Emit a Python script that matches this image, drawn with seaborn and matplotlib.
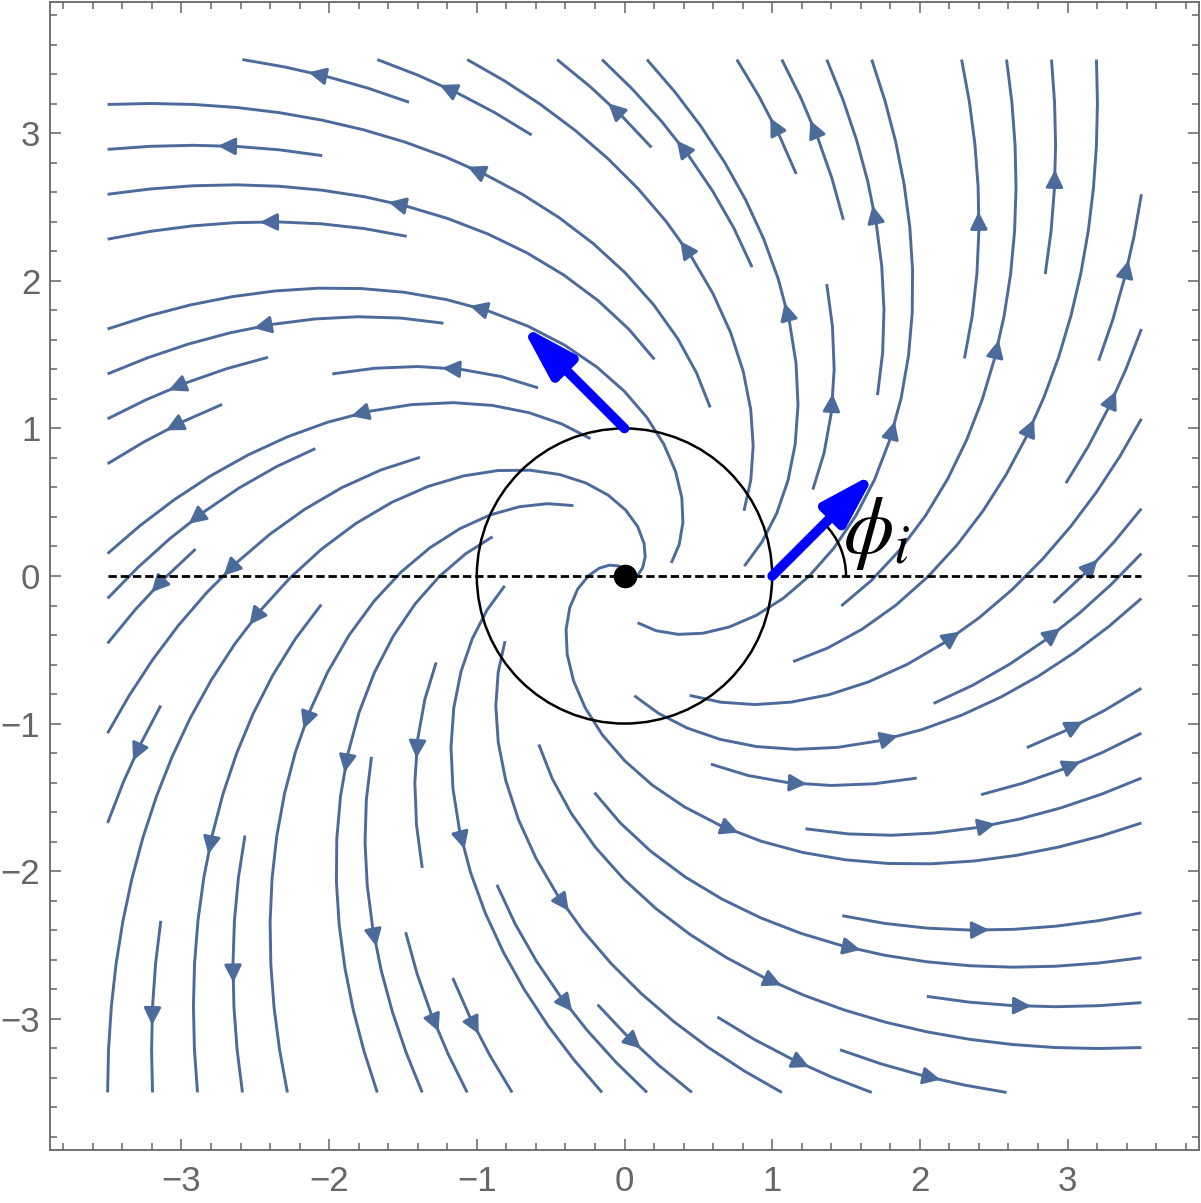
import numpy as np
import matplotlib
matplotlib.use("Agg")
import matplotlib.pyplot as plt
import seaborn as sns
from matplotlib.patches import Circle, Arc

sns.set_theme(style="white")
plt.rcParams['font.family'] = ['Liberation Sans', 'DejaVu Sans']
plt.rcParams['mathtext.fontset'] = 'stix'

# vector field v = (a*x + b*y, c*x + d*y) : outward spiral
field_u = [1.0, -1.0]
field_v = [1.0, 1.0]
plot_range = [-3.5, 3.5]
axis_limits = [-3.89, 3.89]
major_ticks = [-3, -2, -1, 0, 1, 2, 3]

# annotation geometry
circle_radius = 1.0
arrow_starts = [(0.0, 1.0), (1.0, 0.0)]
arrow_ends = [(-0.70, 1.70), (1.70, 0.70)]
angle_center = (1.0, 0.0)
angle_radius = 0.5
angle_deg = 45
label_pos = (1.71, 0.29)
label_text = r'$\phi_i$'

stream_color = '#4C6B9B'

xs = np.linspace(plot_range[0], plot_range[1], 80)
ys = np.linspace(plot_range[0], plot_range[1], 80)
X, Y = np.meshgrid(xs, ys)
U = field_u[0] * X + field_u[1] * Y
V = field_v[0] * X + field_v[1] * Y

fig = plt.figure(figsize=(12.01, 12.03), dpi=100)
ax = fig.add_axes([50/1201, 53/1203, 1149/1201, 1148/1203])

ax.streamplot(X, Y, U, V, density=0.8, color=stream_color, linewidth=2.1,
              arrowsize=2.6, arrowstyle='-|>', broken_streamlines=True, zorder=2)

# dashed axis line
ax.plot(plot_range, [0, 0], color='black', linestyle=(0, (3, 1.4)), linewidth=2.0, zorder=3)
# unit circle
ax.add_patch(Circle((0, 0), circle_radius, fill=False, edgecolor='black', linewidth=1.8, zorder=3))
# origin dot
ax.plot([0], [0], 'o', color='black', markersize=16, zorder=5)
# angle arc
ax.add_patch(Arc(angle_center, 2*angle_radius, 2*angle_radius, theta1=0, theta2=angle_deg,
                 color='black', linewidth=1.8, zorder=3))
# blue arrows
for (x0, y0), (x1, y1) in zip(arrow_starts, arrow_ends):
    ax.annotate('', xy=(x1, y1), xytext=(x0, y0),
                arrowprops=dict(arrowstyle='-|>,head_length=1.6,head_width=0.48',
                                mutation_scale=20, color='#0000FF', lw=7,
                                shrinkA=0, shrinkB=0),
                zorder=6)
ax.text(label_pos[0], label_pos[1], label_text, fontsize=58, color='black',
        ha='center', va='center', zorder=6)

ax.set_xlim(axis_limits)
ax.set_ylim(axis_limits)
ax.set_xticks(major_ticks)
ax.set_yticks(major_ticks)
ax.set_xticks(np.arange(-3.8, 3.81, 0.2), minor=True)
ax.set_yticks(np.arange(-3.8, 3.81, 0.2), minor=True)
ax.tick_params(which='both', direction='in', top=True, right=True, bottom=True, left=True,
               color='#666666', width=1.1)
ax.tick_params(which='major', length=8, labelsize=25, labelcolor='#666666', pad=7)
ax.tick_params(which='minor', length=5)
ax.tick_params(axis='x', which='major', pad=11)
for s in ax.spines.values():
    s.set_color('#666666')
    s.set_linewidth(1.3)
ax.grid(False)

fig.savefig('out.png', dpi=100, facecolor='white')
